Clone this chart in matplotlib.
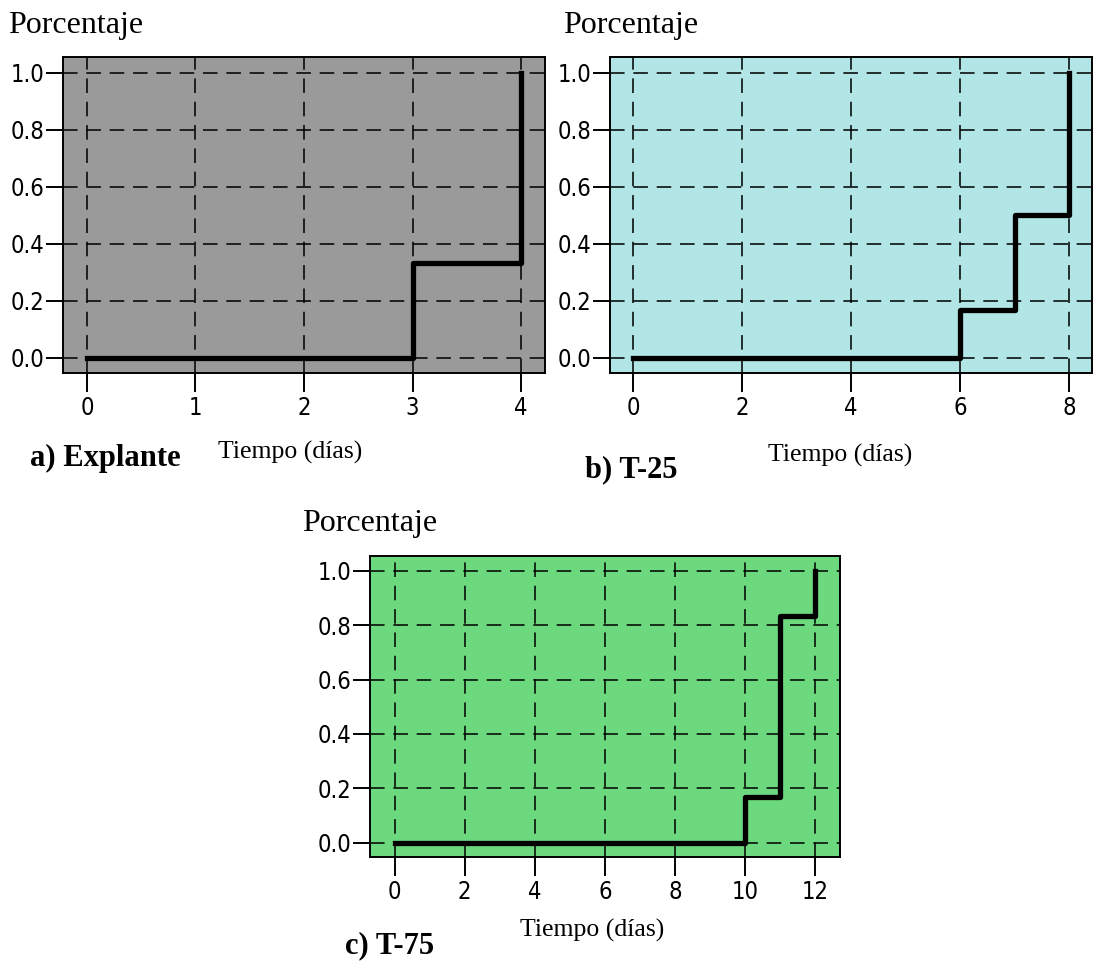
import matplotlib
matplotlib.use('Agg')
import matplotlib.pyplot as plt
import numpy as np

# datos (dias, porcentaje acumulado)
dias_a = [0, 3, 4]
porc_a = [0.0, 0.333, 1.0]
dias_b = [0, 6, 7, 8]
porc_b = [0.0, 0.167, 0.5, 1.0]
dias_c = [0, 10, 11, 12]
porc_c = [0.0, 0.167, 0.833, 1.0]

ticks_a = [0, 1, 2, 3, 4]
ticks_b = [0, 2, 4, 6, 8]
ticks_c = [0, 2, 4, 6, 8, 10, 12]
ticks_y = [0.0, 0.2, 0.4, 0.6, 0.8, 1.0]

W, H = 1094, 964
fig = plt.figure(figsize=(W / 100, H / 100), dpi=100)


def rect(l, t, r, b):
    return [l / W, 1 - b / H, (r - l) / W, (b - t) / H]


def panel(box, x, y, xt, xlim, bg):
    ax = fig.add_axes(rect(*box))
    ax.set_facecolor(bg)
    ax.step(x, y, where='post', color='black', lw=3.8, zorder=3)
    ax.set_xlim(xlim)
    ax.set_ylim(-0.053, 1.055)
    ax.set_xticks(xt)
    ax.set_yticks(ticks_y)
    ax.set_yticklabels(['%.1f' % v for v in ticks_y])
    ax.grid(True, color='black', alpha=0.8, lw=1.4, linestyle=(0, (7.5, 4.5)))
    ax.tick_params(axis='both', width=1.4, color='black', labelsize=17)
    ax.tick_params(axis='y', pad=1.5, length=12)
    ax.tick_params(axis='x', pad=3, length=13.5)
    for lab in ax.get_xticklabels() + ax.get_yticklabels():
        lab.set_fontstretch('condensed')
    for s in ax.spines.values():
        s.set_linewidth(1.4)
    return ax


panel((63, 57, 545, 373), dias_a, porc_a, ticks_a, (-0.22, 4.22), '#9a9a9a')
panel((610, 57, 1092, 373), dias_b, porc_b, ticks_b, (-0.42, 8.42), '#b2e5e6')
panel((370, 556, 840, 857), dias_c, porc_c, ticks_c, (-0.7, 12.7), '#6dd97f')

serif = 'Liberation Serif'


def txt(x, y, s, size, bold=False):
    fig.text(x / W, 1 - y / H, s, fontsize=size, family=serif,
             fontweight='bold' if bold else 'normal', ha='left', va='center')


txt(8, 25, 'Porcentaje', 23)
txt(563, 25, 'Porcentaje', 23)
txt(302, 523, 'Porcentaje', 23)

txt(30, 458, 'a) Explante', 22, bold=True)
txt(218, 452, 'Tiempo (días)', 18.5)
txt(585, 470, 'b) T-25', 22, bold=True)
txt(768, 455, 'Tiempo (días)', 18.5)
txt(345, 946, 'c) T-75', 22, bold=True)
txt(520, 930, 'Tiempo (días)', 18.5)

plt.savefig('out.png', dpi=100)
